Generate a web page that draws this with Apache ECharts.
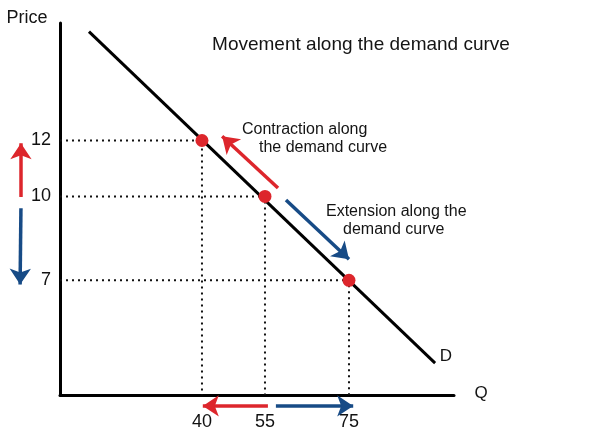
<!DOCTYPE html>
<html>
<head>
<meta charset="utf-8">
<script src="https://cdn.jsdelivr.net/npm/echarts@6/dist/echarts.min.js"></script>
<style>html,body{margin:0;padding:0;background:#fff}#c{width:602px;height:431px}</style>
</head>
<body>
<div id="c"></div>
<script>
// ---- data ----
const quantityTicks = [40, 55, 75];
const priceTicks = [12, 10, 7];
const pointQ = [40, 55, 75];
const pointP = [12, 10, 7];
const demandQ = [13.1, 95.5];
const demandP = [15.89, 4.04];
// annotation arrows [q1, p1, q2, p2] (tail -> head)
const contractionArrow = [58.1, 10.30, 44.8, 12.15];
const extensionArrow = [60.0, 9.87, 75.0, 7.75];
const qLeftArrow = [55.7, 2.51, 40.2, 2.51];
const qRightArrow = [57.6, 2.51, 76.0, 2.51];
const pUpArrow = [-3.1, 9.98, -3.1, 11.9];
const pDownArrow = [-3.1, 9.58, -3.3, 6.85];
const qMin = 6.2, qMax = 100, pMin = 2.9, pMax = 16.2;

const RED = '#dd262c', BLUE = '#174b86', FONT = 'Liberation Sans, Arial, sans-serif';

const chart = echarts.init(document.getElementById('c'));

const guideSeries = pointQ.map((q, i) => ({
  type: 'line', silent: true, symbol: 'none', z: 2,
  data: [[qMin, pointP[i]], [q, pointP[i]], [q, pMin]],
  lineStyle: { color: '#111', width: 2, type: [2, 4] }
}));

function arrow(a, color) {
  return {
    type: 'lines', coordinateSystem: 'cartesian2d', clip: false, silent: true, z: 4,
    symbol: ['none', 'arrow'], symbolSize: 16,
    lineStyle: { color: color, width: 3.5, opacity: 1 },
    data: [{ coords: [[a[0], a[1]], [a[2], a[3]]] }]
  };
}

const text = (t, x, y, size, align) => ({
  type: 'text', x: x, y: y, silent: true,
  style: { text: t, fill: '#141414', font: size + 'px ' + FONT, textAlign: align || 'left', textVerticalAlign: 'middle' }
});

chart.setOption({
  animation: false,
  grid: { left: 60, top: 23, width: 394, height: 372 },
  xAxis: {
    type: 'value', min: qMin, max: qMax,
    axisLine: { show: true, onZero: false, lineStyle: { color: '#000', width: 3 } },
    axisTick: { show: false }, splitLine: { show: false },
    axisLabel: { customValues: quantityTicks, fontSize: 18, color: '#111', fontFamily: FONT, margin: 18 }
  },
  yAxis: {
    type: 'value', min: pMin, max: pMax,
    axisLine: { show: true, onZero: false, lineStyle: { color: '#000', width: 3 } },
    axisTick: { show: false }, splitLine: { show: false },
    axisLabel: { customValues: priceTicks, fontSize: 18, color: '#111', fontFamily: FONT, margin: 9 }
  },
  series: [
    ...guideSeries,
    {
      type: 'line', symbol: 'none', z: 3, silent: true,
      data: demandQ.map((q, i) => [q, demandP[i]]),
      lineStyle: { color: '#000', width: 3 }
    },
    {
      type: 'scatter', z: 6, silent: true, symbolSize: 13,
      itemStyle: { color: RED, opacity: 1 },
      data: pointQ.map((q, i) => [q, pointP[i]])
    },
    arrow(contractionArrow, RED),
    arrow(extensionArrow, BLUE),
    arrow(qLeftArrow, RED),
    arrow(qRightArrow, BLUE),
    arrow(pUpArrow, RED),
    arrow(pDownArrow, BLUE)
  ],
  graphic: [
    text('Price', 27, 18, 18, 'center'),
    text('Q', 481, 393, 17, 'center'),
    text('D', 446, 356, 17, 'center'),
    text('Movement along the demand curve', 361, 45, 19, 'center'),
    text('Contraction along', 242, 130, 16),
    text('the demand curve', 259, 148, 16),
    text('Extension along the', 326, 212, 16),
    text('demand curve', 343, 230, 16)
  ]
});
</script>
</body>
</html>
